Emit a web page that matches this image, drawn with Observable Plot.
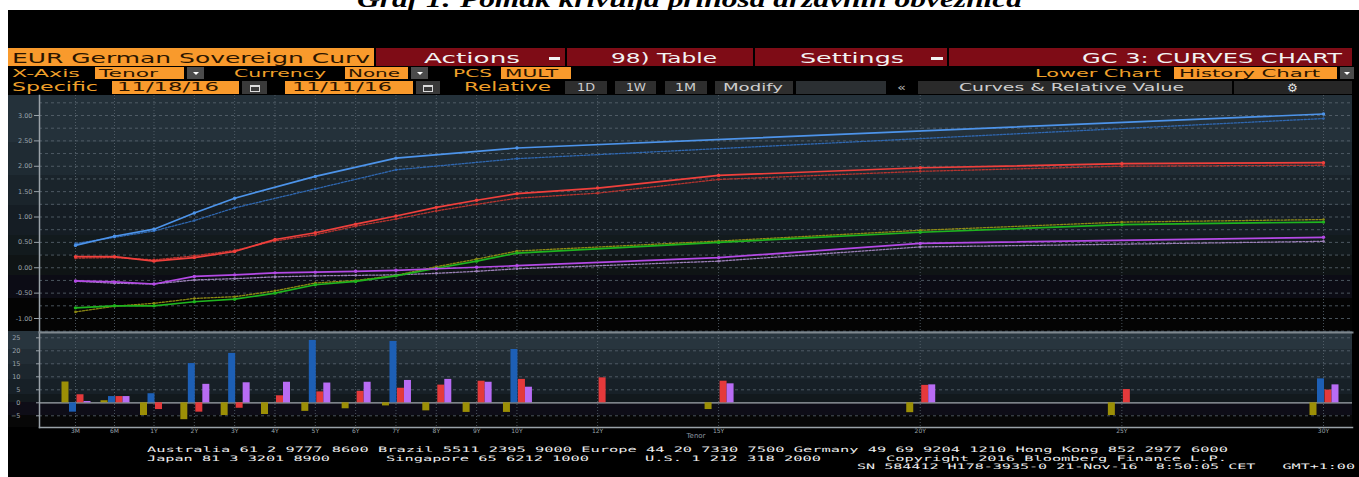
<!DOCTYPE html>
<html><head><meta charset="utf-8">
<script src="https://cdn.jsdelivr.net/npm/d3@7"></script>
<script src="https://cdn.jsdelivr.net/npm/@observablehq/plot@0.6"></script>
<style>
html,body{margin:0;padding:0;background:#fff;}
#root{position:relative;width:1359px;height:477px;overflow:hidden;background:#fff;}
.abs{position:absolute;white-space:pre;line-height:1;}
</style></head><body><div id="root"></div>
<script>
// ---------- data ----------
const tenorLabels = ["3M","6M","1Y","2Y","3Y","4Y","5Y","6Y","7Y","8Y","9Y","10Y","12Y","15Y","20Y","25Y","30Y"];
const tenorYears  = [0.25,0.5,1,2,3,4,5,6,7,8,9,10,12,15,20,25,30];
const mainTicks = [-1,-0.5,0,0.5,1,1.5,2,2.5,3];
const mainGrid = [-1.25,-1,-0.75,-0.5,-0.25,0,0.25,0.5,0.75,1,1.25,1.5,1.75,2,2.25,2.5,2.75,3,3.25];
const barTicks = [-5,0,5,10,15,20,25];

// Germany (green curve, olive bars)
const deNow  = [-0.79,-0.75,-0.75,-0.67,-0.62,-0.50,-0.335,-0.27,-0.16,-0.01,0.13,0.29,null,0.50,0.70,0.85,0.90];
const dePrev = [-0.87,-0.758,-0.70,-0.605,-0.57,-0.455,-0.30,-0.25,-0.15,0.02,0.17,0.33,null,0.526,0.738,0.90,0.95];
const deChg  = [8.0,0.8,-4.9,-6.5,-4.9,-4.5,-3.3,-2.3,-1.2,-3.1,-3.7,-3.7,null,-2.6,-3.8,-4.9,-4.9];
// U.S. (blue)
const usNow  = [0.44,0.62,0.76,1.08,1.37,null,1.80,null,2.16,null,null,2.36,null,null,null,null,3.03];
const usPrev = [0.475,0.60,0.725,0.93,1.18,null,1.555,null,1.93,null,null,2.15,null,null,null,null,2.94];
const usChg  = [-3.6,2.4,3.5,15.1,19.0,null,24.0,null,23.6,null,null,20.5,null,null,null,null,9.2];
// U.K. (red)
const ukNow  = [0.22,0.22,0.13,0.20,0.32,0.557,0.69,0.86,1.02,1.19,1.33,1.46,1.57,1.82,1.97,2.05,2.07];
const ukPrev = [0.19,0.20,0.155,0.235,0.34,0.53,0.65,0.82,0.96,1.12,1.25,1.37,1.47,1.74,1.90,2.00,2.02];
const ukChg  = [3.1,2.4,-2.6,-3.6,-2.1,2.7,4.2,4.4,5.6,6.8,8.3,9.0,9.6,8.3,6.7,5.1,4.9];
// Japan (purple)
const jpNow  = [-0.26,-0.28,-0.32,-0.17,-0.14,-0.10,-0.087,-0.07,-0.05,-0.02,0.01,0.04,null,0.20,0.48,null,0.60];
const jpPrev = [-0.265,-0.305,-0.32,-0.24,-0.215,-0.18,-0.16,-0.15,-0.14,-0.11,-0.07,-0.02,null,0.13,0.41,null,0.52];
const jpChg  = [0.5,2.4,0,7.1,7.7,7.9,7.6,7.9,8.6,9.0,7.9,6.0,null,7.3,6.9,null,6.9];

// ---------- helpers for the Bloomberg chrome ----------
const root = document.getElementById("root");
function box(x,y,w,h,bg){const d=document.createElement("div");d.className="abs";
  Object.assign(d.style,{left:x+"px",top:y+"px",width:w+"px",height:h+"px",background:bg});root.appendChild(d);return d;}
function txt(s,x,base,w,size,color,family,extra){const d=document.createElement("div");d.className="abs";d.textContent=s;
  Object.assign(d.style,{left:x+"px",top:(base-0.846*size)+"px",fontSize:size+"px",color,fontFamily:family||'"DejaVu Sans",sans-serif',transformOrigin:"0 0"},extra||{});
  root.appendChild(d);if(w){const bw=d.getBoundingClientRect().width;d.style.transform=`scaleX(${w/bw})`;}return d;}
function tri(cx,cy){const d=document.createElement("div");d.className="abs";
  Object.assign(d.style,{left:(cx-3)+"px",top:(cy-1.5)+"px",width:0,height:0,borderLeft:"3px solid transparent",borderRight:"3px solid transparent",borderTop:"3px solid #fff"});root.appendChild(d);}
function cal(x,y,w,h){box(x,y,w,h,"#3a3a3a");const d=box(x+w/2-5,y+h/2-3,8,4,"transparent");
  Object.assign(d.style,{border:"1px solid #dcdcdc",borderTopWidth:"2px"});}

const ORANGE="#f99a2c", DARK="#2b1500", AMBER="#f0a02a", BRED="#7e0c16", WHITE="#f2f2f2";

// title (mostly clipped at the top, as in the source picture)
txt("Graf 1: Pomak krivulja prinosa državnih obveznica",357,7.3,665,24,"#000",'"Liberation Serif",serif',{fontWeight:"bold",fontStyle:"italic"});
box(8,10,1351,467,"#000");

// row 1
box(8,48,366,18,ORANGE); txt("EUR German Sovereign Curv",12,63,358,14,DARK);
box(376,48,189,18,BRED); txt("Actions",424,63,96,14,WHITE); box(549,57,11,3,WHITE);
box(567,48,186,18,BRED); txt("98) Table",611,63,106,14,WHITE);
box(755,48,192,18,BRED); txt("Settings",800,63,104,14,WHITE); box(931,57,12,3,WHITE);
box(949,48,403,18,BRED); txt("GC 3: CURVES CHART",1082,63,260,14,WHITE);
// row 2
txt("X-Axis",12,77.5,68,11,AMBER);
box(95,67,89,12,ORANGE); txt("Tenor",99,77.5,59,11,DARK);
box(187,67,17,12,"#4b4b4b"); tri(195.5,73);
txt("Currency",234,77.5,92,11,AMBER);
box(345,67,63,12,ORANGE); txt("None",348,77.5,52,11,DARK);
box(411,67,17,12,"#4b4b4b"); tri(419.5,73);
txt("PCS",453,77.5,39,11,AMBER);
box(501,67,70,12,ORANGE); txt("MULT",505,77.5,53,11,DARK);
txt("Lower Chart",1035,77.5,126,11,AMBER);
box(1174,67,163,12,ORANGE); txt("History Chart",1179,77.5,141,11,DARK);
box(1340,67,14,12,"#4b4b4b"); tri(1347,73);
// row 3
txt("Specific",12,91.5,86,11.5,AMBER);
box(112,81,127,13,ORANGE); txt("11/18/16",117,91.5,102,11.5,DARK);
cal(242,81,25,13);
box(285,81,128,13,ORANGE); txt("11/11/16",292,91.5,100,11.5,DARK);
cal(416,81,24,13);
txt("Relative",464,91.5,87,11.5,AMBER);
box(565,81,42,13,"#2e2e2e"); txt("1D",577,91,18,10,"#cfcfcf");
box(615,81,41,13,"#2e2e2e"); txt("1W",626,91,20,10,"#cfcfcf");
box(665,81,42,13,"#2e2e2e"); txt("1M",675,91,21,10,"#cfcfcf");
box(715,81,78,13,"#2e2e2e"); txt("Modify",723,91,60,10,"#cfcfcf");
box(796,81,90,13,"#2b2f32");
txt("«",897,91,9,10,"#bdbdbd");
box(918,81,314,13,"#2a2a2a"); txt("Curves & Relative Value",959,91,225,10,"#cfcfcf");
box(1234,81,118,13,"#262626"); txt("⚙",1287,92,null,12,"#e6e6e6");

// panel backgrounds
const mainBg = box(8,95,1344,236,"#000");
mainBg.style.background="linear-gradient(to bottom,#24313a 0px,#24313a 47px,#1f2b33 47px,#1f2b33 80px,#1a242b 80px,#1a242b 110px,#151d24 110px,#151d24 140px,#121a1d 140px,#121a1d 160px,#0f1415 160px,#0f1415 180px,#0c0c15 180px,#0c0c15 203px,#040404 203px)";
const barBg = box(8,331,1344,96,"#000");
barBg.style.background="linear-gradient(to bottom,#28353e 0px,#28353e 18px,#222d35 18px,#222d35 33px,#1c262d 33px,#1c262d 48px,#172027 48px,#172027 63px,#12191d 63px,#12191d 71px,#0e0d17 71px,#0e0d17 84px,#070707 84px)";

// ---------- series ----------
function rows(now,prev,chg){return tenorYears.map((t,j)=>({t,label:tenorLabels[j],now:now[j],prev:prev[j],chg:chg[j]}));}
const S = [
  {rows:rows(deNow,dePrev,deChg), now:"#1fb41f", prev:"#8e8a14", bar:"#9c8f06", dx:-10.5},
  {rows:rows(usNow,usPrev,usChg), now:"#4d94ea", prev:"#2f67b0", bar:"#1d5fb5", dx:-3},
  {rows:rows(ukNow,ukPrev,ukChg), now:"#f0403c", prev:"#b5342f", bar:"#e4393b", dx:4.5},
  {rows:rows(jpNow,jpPrev,jpChg), now:"#b44ae6", prev:"#9b80b8", bar:"#b86cf4", dx:11.5}
];
const labelOf = new Map(tenorYears.map((t,j)=>[t,tenorLabels[j]]));
const xScale = {type:"linear", domain:[0.25,0.5,1,30], range:[75,114,153.5,1323], axis:null, label:null};
const font = '"DejaVu Sans",sans-serif';

const main = Plot.plot({
  width:1359, height:236, marginLeft:39, marginRight:7, marginTop:0, marginBottom:0,
  style:{background:"transparent", fontFamily:font, overflow:"visible"},
  x: xScale,
  y: {domain:[-1,3], range:[223,20], axis:null, label:null},
  marks:[
    Plot.gridY(mainGrid, {stroke:"#5a6670", strokeOpacity:0.8, strokeDasharray:"3,3"}),
    Plot.gridX(tenorYears, {stroke:"#5a6670", strokeOpacity:0.8, strokeDasharray:"1,2"}),
    Plot.axisY(mainTicks, {anchor:"left", label:null, tickSize:5, tickPadding:2, fontSize:6.5, color:"#9aa3aa", tickFormat:d=>d.toFixed(2)}),
    Plot.frame({anchor:"left", stroke:"#9aa2a8", strokeWidth:1.5}),
    ...S.flatMap(s=>{const r=s.rows.filter(d=>d.prev!=null);return [
      Plot.line(r,{x:"t",y:"prev",stroke:s.prev,strokeWidth:1.3,strokeDasharray:"2,1.5"}),
      Plot.dot(r,{x:"t",y:"prev",r:1.3,fill:s.prev})];}),
    ...S.flatMap(s=>{const r=s.rows.filter(d=>d.now!=null);return [
      Plot.line(r,{x:"t",y:"now",stroke:s.now,strokeWidth:1.7}),
      Plot.dot(r,{x:"t",y:"now",r:1.7,fill:s.now})];})
  ]
});
const mw=document.createElement("div");mw.className="abs";Object.assign(mw.style,{left:"0px",top:"95px"});mw.appendChild(main);root.appendChild(mw);

const bars = Plot.plot({
  width:1359, height:113, marginLeft:39, marginRight:7, marginTop:2, marginBottom:16,
  style:{background:"transparent", fontFamily:font, overflow:"visible"},
  x: xScale,
  y: {domain:[-5,25], range:[85.3,7.3], axis:null, label:null},
  marks:[
    Plot.gridY(barTicks.filter(d=>d!==0), {stroke:"#5a6670", strokeOpacity:0.8, strokeDasharray:"3,3"}),
    Plot.gridX(tenorYears, {stroke:"#5a6670", strokeOpacity:0.8, strokeDasharray:"1,2"}),
    Plot.ruleY([0], {stroke:"#a3abb0", strokeWidth:1.2}),
    ...S.map(s=>Plot.ruleX(s.rows.filter(d=>d.chg!=null&&d.chg!==0),{x:"t",y1:0,y2:"chg",stroke:s.bar,strokeWidth:7,dx:s.dx})),
    Plot.axisY(barTicks, {anchor:"left", label:null, tickSize:3, tickPadding:16, fontSize:6.5, color:"#9aa3aa"}),
    Plot.axisX(tenorYears, {anchor:"bottom", tickSize:0, tickPadding:1, fontSize:6, color:"#9aa3aa", tickFormat:d=>labelOf.get(d), label:null}),
    Plot.text(["Tenor"], {frameAnchor:"bottom", dy:10, fontSize:7, fill:"#8c96a0"}),
    Plot.frame({anchor:"left", stroke:"#9aa2a8", strokeWidth:1.5}),
    Plot.frame({anchor:"bottom", stroke:"#9aa2a8", strokeWidth:1.5}),
    Plot.frame({anchor:"top", stroke:"#7f888e", strokeWidth:2})
  ]
});
const bw=document.createElement("div");bw.className="abs";Object.assign(bw.style,{left:"0px",top:"330px"});bw.appendChild(bars);root.appendChild(bw);

// footer
const MONO='"DejaVu Sans Mono",monospace';
txt("Australia 61 2 9777 8600 Brazil 5511 2395 9000 Europe 44 20 7330 7500 Germany 49 69 9204 1210 Hong Kong 852 2977 6000",147,452.3,1081,7.5,"#ededed",MONO);
txt("Japan 81 3 3201 8900",147,461,183,7.5,"#ededed",MONO);
txt("Singapore 65 6212 1000",386,461,203,7.5,"#ededed",MONO);
txt("U.S. 1 212 318 2000",645,461,176,7.5,"#ededed",MONO);
txt("Copyright 2016 Bloomberg Finance L.P.",886,461,341,7.5,"#ededed",MONO);
txt("SN 584412 H178-3935-0 21-Nov-16  8:50:05 CET   GMT+1:00",857,469.7,498,7.5,"#ededed",MONO);
</script></body></html>
